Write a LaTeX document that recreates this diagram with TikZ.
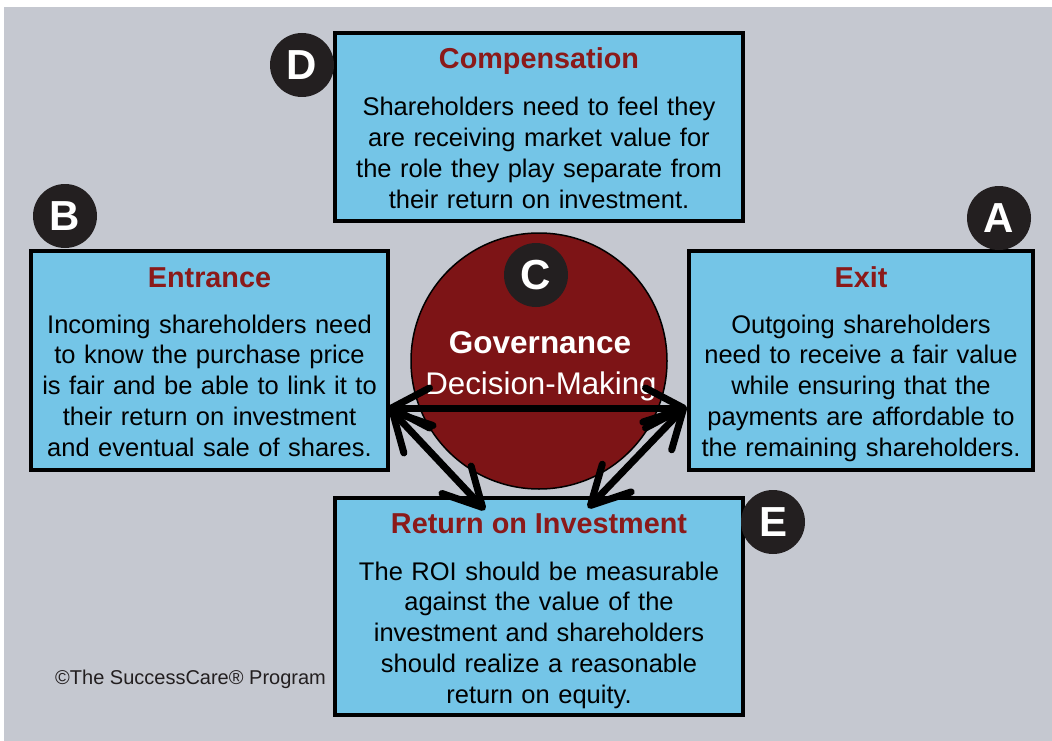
\documentclass[tikz,border=0pt]{standalone}
\usepackage{fontspec}
\setmainfont{Liberation Sans}
\usetikzlibrary{arrows.meta}
\definecolor{bggray}{HTML}{C5C8D0}
\definecolor{boxblue}{HTML}{74C5E7}
\definecolor{titlered}{HTML}{8B1A1A}
\definecolor{circred}{HTML}{7D1416}
\definecolor{badgeblack}{HTML}{231F20}
\tikzset{
  infobox/.style={draw=black, line width=3.5pt, fill=boxblue, inner sep=0pt},
  boxtitle/.style={anchor=base, inner sep=0pt, text=titlered, font={\fontsize{28.8}{34}\selectfont\bfseries}},
  boxbody/.style={anchor=base, inner sep=0pt, align=center, font={\fontsize{25.5}{30.8}\selectfont}},
  badge/.style={circle, fill=badgeblack, minimum size=64pt, inner sep=0pt, text=white, font={\fontsize{42}{42}\selectfont\bfseries}},
  barbtip/.tip={Straight Barb[length=38pt, width=40pt, line width=7pt, round]},
  conn/.style={line width=7pt, line cap=round, barbtip-barbtip}
}
\begin{document}
\begin{tikzpicture}[x=1pt, y=-1pt]
\useasboundingbox (0,0) rectangle (1052,741);
\fill[bggray] (4,7) rectangle (1052,741);

% central circle
\node[circle, draw=black, line width=1.5pt, fill=circred, minimum size=256pt, inner sep=0pt] (gov) at (539,361) {};
\node[anchor=base, inner sep=0pt, text=white, font={\fontsize{31.5}{36}\selectfont\bfseries}] (govt) at (540,353) {Governance};
\node[anchor=base, inner sep=0pt, text=white, font={\fontsize{31.3}{36}\selectfont}] (govd) at (541,394) {Decision-Making};

% boxes
\node[infobox, minimum width=408pt, minimum height=188pt] (comp) at (539,127) {};
\node[infobox, minimum width=357pt, minimum height=219pt] (ent) at (209.5,360.5) {};
\node[infobox, minimum width=344pt, minimum height=219pt] (exit) at (861,360.5) {};
\node[infobox, minimum width=408pt, minimum height=217pt] (roi) at (539,606.5) {};

% box texts
\node[boxtitle] (compt) at (539,69) {Compensation};
\node[boxbody, text width=400pt] (compb) at (539,116) {Shareholders need to feel they\\are receiving market value for\\the role they play separate from\\their return on investment.};

\node[boxtitle] (entt) at (209.5,287) {Entrance};
\node[boxbody, text width=350pt] (entb) at (209.5,333) {Incoming shareholders need\\to know the purchase price\\is fair and be able to link it to\\their return on investment\\and eventual sale of shares.};

\node[boxtitle] (exitt) at (861,287) {Exit};
\node[boxbody, text width=340pt] (exitb) at (861,333) {Outgoing shareholders\\need to receive a fair value\\while ensuring that the\\payments are affordable to\\the remaining shareholders.};

\node[boxtitle] (roit) at (539,533) {Return on Investment};
\node[boxbody, text width=400pt] (roib) at (539,580) {The ROI should be measurable\\against the value of the\\investment and shareholders\\should realize a reasonable\\return on equity.};

% badges
\node[badge] (bd) at (302,65) {D};
\node[badge] (bb) at (65,216) {B};
\node[badge] (ba) at (999,218) {A};
\node[badge] (bc) at (536,275) {C};
\node[badge] (be) at (773,522) {E};

% connectors
\coordinate (hl) at (388,408);
\coordinate (hr) at (687,408);
\coordinate (dl) at (390,409);
\coordinate (dlb) at (485,510);
\coordinate (dr) at (686,406);
\coordinate (drb) at (588,508);
\draw[conn] (hl) -- (hr);
\draw[conn] (dl) -- (dlb);
\draw[conn] (dr) -- (drb);

% copyright
\node[anchor=base west, inner sep=0pt, text=badgeblack, font={\fontsize{20}{24}\selectfont}] (copy) at (55,684) {©The SuccessCare® Program};
\end{tikzpicture}
\end{document}
